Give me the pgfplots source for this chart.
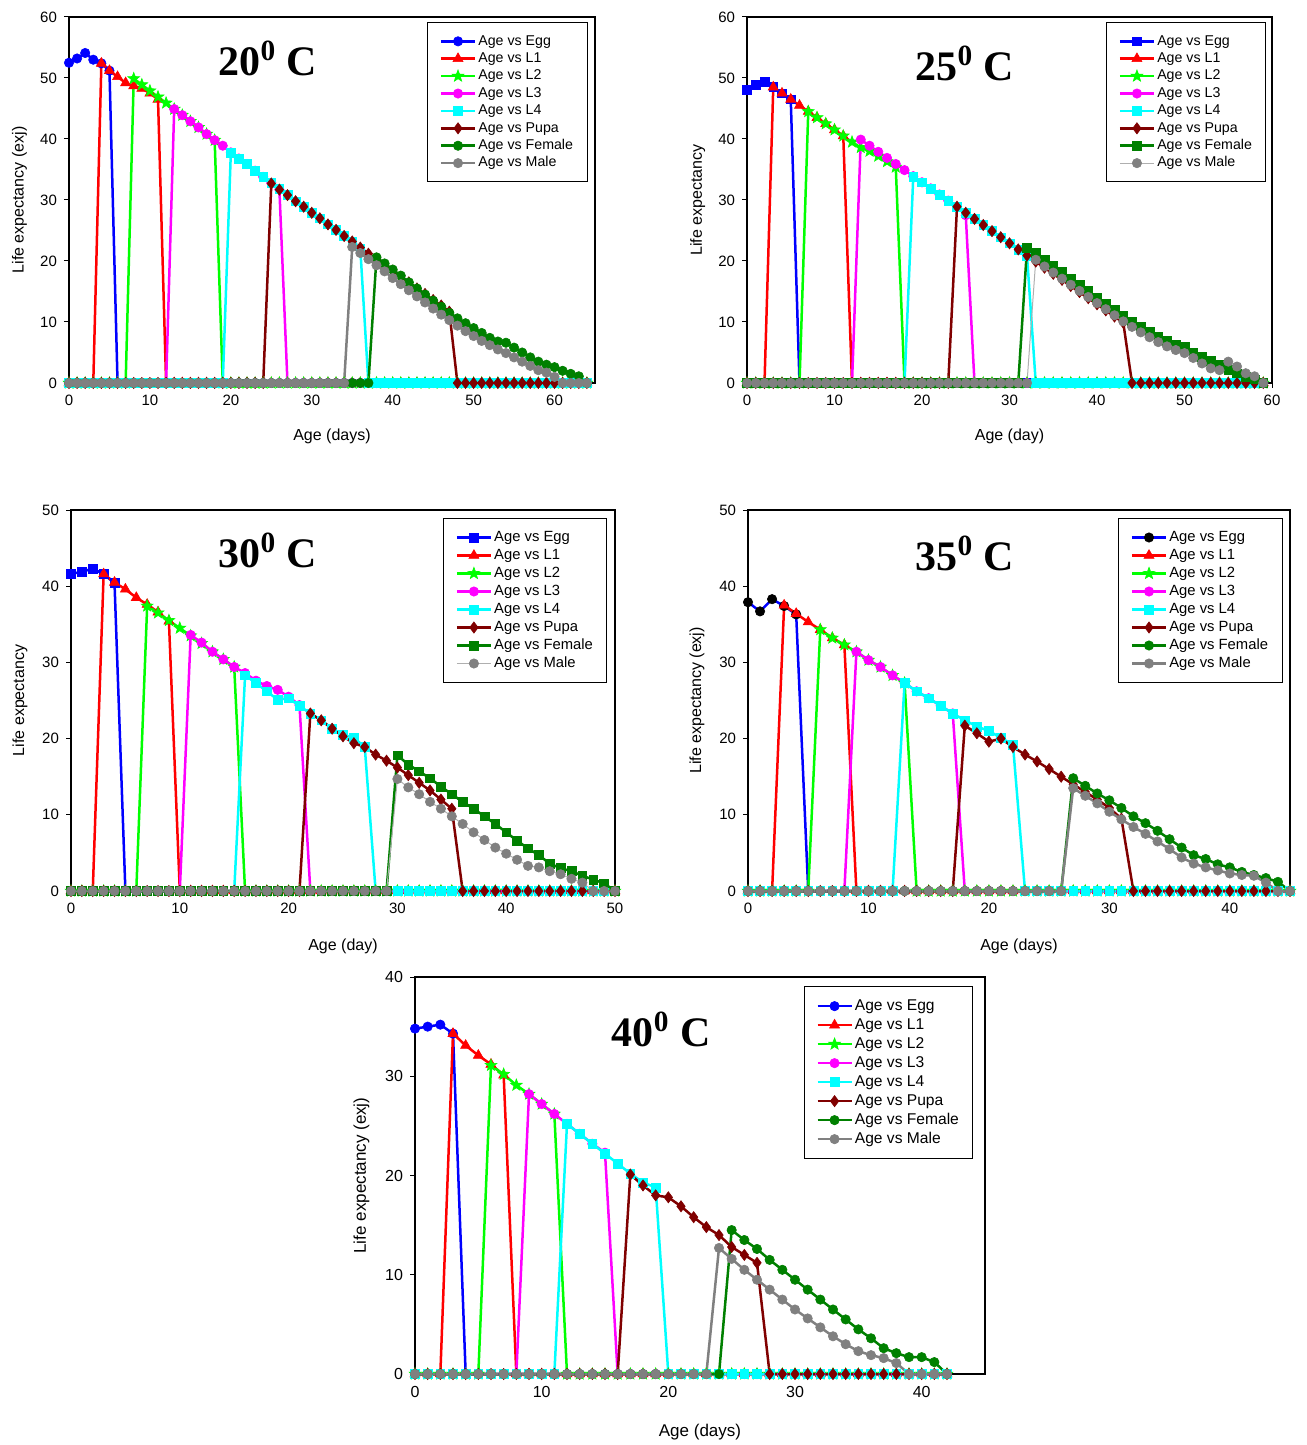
\documentclass[border=0pt]{standalone}
\usepackage{fontspec}
\setmainfont{Liberation Sans}
\newfontfamily\tnr{Liberation Serif}
\usepackage{pgfplots}
\usepackage{pgfplotstable}
\pgfplotsset{compat=1.18}
\usetikzlibrary{plotmarks}

\definecolor{cB}{RGB}{0,0,255}
\definecolor{cR}{RGB}{255,0,0}
\definecolor{cL2}{RGB}{0,255,0}
\definecolor{cM}{RGB}{255,0,255}
\definecolor{cC}{RGB}{0,255,255}
\definecolor{cPupa}{RGB}{128,0,0}
\definecolor{cFem}{RGB}{0,128,0}
\definecolor{cMale}{RGB}{128,128,128}
\definecolor{cMaleL}{RGB}{175,175,175}

\pgfdeclareplotmark{fstar}{%
\pgfpathmoveto{\pgfpointpolar{90}{\pgfplotmarksize}}%
\pgfpathlineto{\pgfpointpolar{126}{0.42\pgfplotmarksize}}%
\pgfpathlineto{\pgfpointpolar{162}{\pgfplotmarksize}}%
\pgfpathlineto{\pgfpointpolar{198}{0.42\pgfplotmarksize}}%
\pgfpathlineto{\pgfpointpolar{234}{\pgfplotmarksize}}%
\pgfpathlineto{\pgfpointpolar{270}{0.42\pgfplotmarksize}}%
\pgfpathlineto{\pgfpointpolar{306}{\pgfplotmarksize}}%
\pgfpathlineto{\pgfpointpolar{342}{0.42\pgfplotmarksize}}%
\pgfpathlineto{\pgfpointpolar{18}{\pgfplotmarksize}}%
\pgfpathlineto{\pgfpointpolar{54}{0.42\pgfplotmarksize}}%
\pgfpathclose\pgfusepathqfillstroke}

\pgfplotsset{
 sEggC/.style={color=cB, line width=1.25pt, mark=*, mark size=2.35pt, mark options={solid,line width=0.3pt}},
 sEggS/.style={color=cB, line width=1.25pt, mark=square*, mark size=2.2pt, mark options={solid,line width=0.3pt}},
 sEggK/.style={color=cB, line width=1.25pt, mark=*, mark size=2.35pt, mark options={solid,line width=0.3pt,fill=black,draw=black}},
 sL1/.style={color=cR, line width=1.25pt, mark=triangle*, mark size=2.9pt, mark options={solid,line width=0.3pt}},
 sL2/.style={color=cL2, line width=1.25pt, mark=fstar, mark size=3.1pt, mark options={solid,line width=0.3pt}},
 sL3/.style={color=cM, line width=1.25pt, mark=*, mark size=2.35pt, mark options={solid,line width=0.3pt}},
 sL4/.style={color=cC, line width=1.25pt, mark=square*, mark size=2.2pt, mark options={solid,line width=0.3pt}},
 sP/.style={color=cPupa, line width=1.25pt, mark=diamond*, mark size=2.8pt, mark options={solid,line width=0.3pt}},
 sFC/.style={color=cFem, line width=1.25pt, mark=*, mark size=2.35pt, mark options={solid,line width=0.3pt}},
 sFS/.style={color=cFem, line width=1.25pt, mark=square*, mark size=2.2pt, mark options={solid,line width=0.3pt}},
 sMC/.style={color=cMale, line width=1.25pt, mark=*, mark size=2.35pt, mark options={solid,line width=0.3pt}},
 sMT/.style={color=cMaleL, line width=0.5pt, mark=*, mark size=2.35pt, mark options={solid,line width=0.3pt,fill=cMale,draw=cMale}},
 pan/.style={scale only axis, anchor=north west, xmin=0, ymin=0, clip=false,
  axis line style={line width=0.6pt, black},
  tick align=outside, xtick pos=left, ytick pos=left, major tick length=2.5pt,
  tick style={black, line width=0.5pt},
  tick label style={font=\fontsize{7.5}{9}\selectfont},
  /pgf/number format/assume math mode=true,
  xtick distance=10, ytick distance=10, minor tick num=0,
  label style={font=\fontsize{8}{10}\selectfont},
  xlabel style={at={(axis description cs:0.5,-0.146)}, anchor=center},
  ylabel style={at={(axis description cs:-0.094,0.5)}, anchor=center},
  legend cell align=left,
  legend style={draw=black, line width=0.5pt, fill=white, font=\fontsize{7.1}{8}\selectfont,
   inner xsep=6pt, inner ysep=5pt, row sep=0pt,
   nodes={inner sep=1pt, text height=5.2pt, text depth=1.5pt}},
 },
}
\newcommand\ttl{\tnr\bfseries\fontsize{21}{24}\selectfont}
\newcommand\allplots[4]{%
 \addplot[#2] table[x=d,y=E]{#1};
 \addplot[sL1] table[x=d,y=A]{#1};
 \addplot[sL2] table[x=d,y=B]{#1};
 \addplot[sL3] table[x=d,y=C]{#1};
 \addplot[sL4] table[x=d,y=Q]{#1};
 \addplot[sP] table[x=d,y=P]{#1};
 \addplot[#3] table[x=d,y=F]{#1};
 \addplot[#4] table[x=d,y=M]{#1};
 \legend{Age vs Egg,Age vs L1,Age vs L2,Age vs L3,Age vs L4,Age vs Pupa,Age vs Female,Age vs Male}%
}

\pgfplotstableread{
d E A B C Q P F M
0 52.5 0 0 0 0 0 0 0
1 53.2 0 0 0 0 0 0 0
2 54.1 0 0 0 0 0 0 0
3 53.0 0 0 0 0 0 0 0
4 52.4 52.4 0 0 0 0 0 0
5 51.2 51.2 0 0 0 0 0 0
6 0 50.2 0 0 0 0 0 0
7 0 49.2 0 0 0 0 0 0
8 0 48.7 49.9 0 0 0 0 0
9 0 48.3 48.9 0 0 0 0 0
10 0 47.5 47.9 0 0 0 0 0
11 0 46.5 46.9 0 0 0 0 0
12 0 0 45.9 0 0 0 0 0
13 0 0 44.9 44.9 0 0 0 0
14 0 0 43.9 43.9 0 0 0 0
15 0 0 42.9 42.9 0 0 0 0
16 0 0 41.9 41.9 0 0 0 0
17 0 0 40.8 40.8 0 0 0 0
18 0 0 39.8 39.8 0 0 0 0
19 0 0 0 38.9 0 0 0 0
20 0 0 0 37.8 37.8 0 0 0
21 0 0 0 36.8 36.8 0 0 0
22 0 0 0 35.9 35.9 0 0 0
23 0 0 0 34.8 34.8 0 0 0
24 0 0 0 33.8 33.8 0 0 0
25 0 0 0 32.8 32.8 32.7 0 0
26 0 0 0 31.7 31.8 31.7 0 0
27 0 0 0 0 30.8 30.8 0 0
28 0 0 0 0 29.8 29.8 0 0
29 0 0 0 0 28.9 28.9 0 0
30 0 0 0 0 27.9 27.9 0 0
31 0 0 0 0 27.0 27.0 0 0
32 0 0 0 0 26.0 26.0 0 0
33 0 0 0 0 25.1 25.1 0 0
34 0 0 0 0 24.1 24.1 0 0
35 0 0 0 0 23.2 23.2 0 22.3
36 0 0 0 0 22.0 22.2 0 21.3
37 0 0 0 0 0 21.2 0 20.3
38 0 0 0 0 0 20.3 20.6 19.3
39 0 0 0 0 0 19.3 19.6 18.3
40 0 0 0 0 0 18.4 18.6 17.2
41 0 0 0 0 0 17.4 17.6 16.2
42 0 0 0 0 0 16.5 16.5 15.2
43 0 0 0 0 0 15.5 15.5 14.2
44 0 0 0 0 0 14.6 14.5 13.2
45 0 0 0 0 0 13.6 13.5 12.2
46 0 0 0 0 0 12.7 12.5 11.2
47 0 0 0 0 0 11.7 11.5 10.3
48 0 0 0 0 0 0 10.6 9.4
49 0 0 0 0 0 0 9.8 8.5
50 0 0 0 0 0 0 9.0 7.7
51 0 0 0 0 0 0 8.2 6.9
52 0 0 0 0 0 0 7.4 6.2
53 0 0 0 0 0 0 6.8 5.5
54 0 0 0 0 0 0 6.6 4.9
55 0 0 0 0 0 0 5.8 4.2
56 0 0 0 0 0 0 5.0 3.5
57 0 0 0 0 0 0 4.2 2.8
58 0 0 0 0 0 0 3.5 2.1
59 0 0 0 0 0 0 3.0 1.7
60 0 0 0 0 0 0 2.6 1.0
61 0 0 0 0 0 0 2.0 0
62 0 0 0 0 0 0 1.5 0
63 0 0 0 0 0 0 1.1 0
64 0 0 0 0 0 0 0 0
}\tA

\pgfplotstableread{
d E A B C Q P F M
0 48.1 0 0 0 0 0 0 0
1 48.9 0 0 0 0 0 0 0
2 49.4 0 0 0 0 0 0 0
3 48.5 48.5 0 0 0 0 0 0
4 47.5 47.5 0 0 0 0 0 0
5 46.5 46.5 0 0 0 0 0 0
6 0 45.5 0 0 0 0 0 0
7 0 44.5 44.5 0 0 0 0 0
8 0 43.5 43.5 0 0 0 0 0
9 0 42.5 42.5 0 0 0 0 0
10 0 41.5 41.5 0 0 0 0 0
11 0 40.5 40.5 0 0 0 0 0
12 0 0 39.5 0 0 0 0 0
13 0 0 38.6 39.9 0 0 0 0
14 0 0 38.0 38.9 0 0 0 0
15 0 0 37.2 37.9 0 0 0 0
16 0 0 36.3 36.9 0 0 0 0
17 0 0 35.4 35.9 0 0 0 0
18 0 0 0 34.9 0 0 0 0
19 0 0 0 33.9 33.8 0 0 0
20 0 0 0 32.9 32.9 0 0 0
21 0 0 0 31.9 31.9 0 0 0
22 0 0 0 30.9 30.9 0 0 0
23 0 0 0 29.9 29.9 0 0 0
24 0 0 0 28.9 28.9 28.9 0 0
25 0 0 0 27.5 27.9 27.9 0 0
26 0 0 0 0 26.9 26.9 0 0
27 0 0 0 0 25.9 25.9 0 0
28 0 0 0 0 24.9 24.9 0 0
29 0 0 0 0 23.9 23.9 0 0
30 0 0 0 0 22.9 22.9 0 0
31 0 0 0 0 21.9 21.9 0 0
32 0 0 0 0 20.9 20.9 22.1 0
33 0 0 0 0 0 19.9 21.3 20.2
34 0 0 0 0 0 18.9 20.2 19.1
35 0 0 0 0 0 17.9 19.2 18.1
36 0 0 0 0 0 16.9 18.2 17.1
37 0 0 0 0 0 15.9 17.1 16.1
38 0 0 0 0 0 14.9 16.1 15.1
39 0 0 0 0 0 13.9 15.1 14.1
40 0 0 0 0 0 12.9 14.0 13.1
41 0 0 0 0 0 11.9 13.0 12.1
42 0 0 0 0 0 10.9 12.0 11.1
43 0 0 0 0 0 9.9 11.0 10.1
44 0 0 0 0 0 0 10.1 9.2
45 0 0 0 0 0 0 9.2 8.3
46 0 0 0 0 0 0 8.4 7.5
47 0 0 0 0 0 0 7.6 6.7
48 0 0 0 0 0 0 6.9 6.0
49 0 0 0 0 0 0 6.3 5.4
50 0 0 0 0 0 0 5.9 4.9
51 0 0 0 0 0 0 5.0 4.1
52 0 0 0 0 0 0 4.3 3.2
53 0 0 0 0 0 0 3.7 2.4
54 0 0 0 0 0 0 3.0 2.1
55 0 0 0 0 0 0 2.1 3.5
56 0 0 0 0 0 0 1.6 2.7
57 0 0 0 0 0 0 1.0 1.6
58 0 0 0 0 0 0 0.6 1.1
59 0 0 0 0 0 0 0 0
}\tB

\pgfplotstableread{
d E A B C Q P F M
0 41.6 0 0 0 0 0 0 0
1 41.9 0 0 0 0 0 0 0
2 42.3 0 0 0 0 0 0 0
3 41.6 41.6 0 0 0 0 0 0
4 40.4 40.5 0 0 0 0 0 0
5 0 39.6 0 0 0 0 0 0
6 0 38.5 0 0 0 0 0 0
7 0 37.6 37.4 0 0 0 0 0
8 0 36.6 36.5 0 0 0 0 0
9 0 35.4 35.5 0 0 0 0 0
10 0 0 34.5 0 0 0 0 0
11 0 0 33.5 33.6 0 0 0 0
12 0 0 32.5 32.6 0 0 0 0
13 0 0 31.4 31.4 0 0 0 0
14 0 0 30.4 30.4 0 0 0 0
15 0 0 29.4 29.4 0 0 0 0
16 0 0 0 28.6 28.3 0 0 0
17 0 0 0 27.6 27.3 0 0 0
18 0 0 0 26.9 26.2 0 0 0
19 0 0 0 26.4 25.1 0 0 0
20 0 0 0 25.5 25.3 0 0 0
21 0 0 0 24.4 24.3 0 0 0
22 0 0 0 0 23.3 23.3 0 0
23 0 0 0 0 22.4 22.4 0 0
24 0 0 0 0 21.3 21.3 0 0
25 0 0 0 0 20.5 20.3 0 0
26 0 0 0 0 20.1 19.4 0 0
27 0 0 0 0 18.9 18.9 0 0
28 0 0 0 0 0 17.9 0 0
29 0 0 0 0 0 17.1 0 0
30 0 0 0 0 0 16.2 17.8 14.7
31 0 0 0 0 0 15.2 16.6 13.6
32 0 0 0 0 0 14.2 15.7 12.7
33 0 0 0 0 0 13.2 14.8 11.7
34 0 0 0 0 0 12.0 13.7 10.8
35 0 0 0 0 0 10.8 12.7 9.8
36 0 0 0 0 0 0 11.7 8.8
37 0 0 0 0 0 0 10.8 7.7
38 0 0 0 0 0 0 9.8 6.7
39 0 0 0 0 0 0 8.8 5.7
40 0 0 0 0 0 0 7.7 4.9
41 0 0 0 0 0 0 6.6 4.1
42 0 0 0 0 0 0 5.6 3.3
43 0 0 0 0 0 0 4.7 3.1
44 0 0 0 0 0 0 3.6 2.6
45 0 0 0 0 0 0 3.0 2.2
46 0 0 0 0 0 0 2.6 1.6
47 0 0 0 0 0 0 2.0 1.1
48 0 0 0 0 0 0 1.5 0
49 0 0 0 0 0 0 1.0 0
50 0 0 0 0 0 0 0 0
}\tC

\pgfplotstableread{
d E A B C Q P F M
0 37.9 0 0 0 0 0 0 0
1 36.7 0 0 0 0 0 0 0
2 38.3 0 0 0 0 0 0 0
3 37.4 37.5 0 0 0 0 0 0
4 36.3 36.4 0 0 0 0 0 0
5 0 35.3 0 0 0 0 0 0
6 0 34.3 34.3 0 0 0 0 0
7 0 33.2 33.2 0 0 0 0 0
8 0 32.3 32.3 0 0 0 0 0
9 0 0 31.4 31.4 0 0 0 0
10 0 0 30.3 30.3 0 0 0 0
11 0 0 29.4 29.4 0 0 0 0
12 0 0 28.3 28.3 0 0 0 0
13 0 0 27.3 27.3 27.3 0 0 0
14 0 0 0 26.2 26.2 0 0 0
15 0 0 0 25.3 25.3 0 0 0
16 0 0 0 24.3 24.3 0 0 0
17 0 0 0 23.3 23.3 0 0 0
18 0 0 0 0 22.4 21.7 0 0
19 0 0 0 0 21.6 20.7 0 0
20 0 0 0 0 21.0 19.6 0 0
21 0 0 0 0 20.1 20.0 0 0
22 0 0 0 0 19.2 18.9 0 0
23 0 0 0 0 0 17.9 0 0
24 0 0 0 0 0 17.0 0 0
25 0 0 0 0 0 16.0 0 0
26 0 0 0 0 0 15.0 0 0
27 0 0 0 0 0 14.0 14.8 13.5
28 0 0 0 0 0 13.0 13.8 12.5
29 0 0 0 0 0 12.0 12.8 11.5
30 0 0 0 0 0 10.9 11.9 10.4
31 0 0 0 0 0 9.5 10.9 9.4
32 0 0 0 0 0 0 9.8 8.4
33 0 0 0 0 0 0 8.9 7.5
34 0 0 0 0 0 0 7.9 6.5
35 0 0 0 0 0 0 6.8 5.5
36 0 0 0 0 0 0 5.7 4.4
37 0 0 0 0 0 0 4.7 3.6
38 0 0 0 0 0 0 4.2 3.1
39 0 0 0 0 0 0 3.5 2.7
40 0 0 0 0 0 0 3.1 2.3
41 0 0 0 0 0 0 2.5 2.1
42 0 0 0 0 0 0 2.1 2.0
43 0 0 0 0 0 0 1.7 1.1
44 0 0 0 0 0 0 1.2 0
45 0 0 0 0 0 0 0 0
}\tD

\pgfplotstableread{
d E A B C Q P F M
0 34.8 0 0 0 0 0 0 0
1 35.0 0 0 0 0 0 0 0
2 35.2 0 0 0 0 0 0 0
3 34.3 34.3 0 0 0 0 0 0
4 0 33.1 0 0 0 0 0 0
5 0 32.1 0 0 0 0 0 0
6 0 31.2 31.1 0 0 0 0 0
7 0 30.1 30.2 0 0 0 0 0
8 0 0 29.1 0 0 0 0 0
9 0 0 28.2 28.2 0 0 0 0
10 0 0 27.2 27.2 0 0 0 0
11 0 0 26.2 26.2 0 0 0 0
12 0 0 0 25.2 25.2 0 0 0
13 0 0 0 24.2 24.2 0 0 0
14 0 0 0 23.2 23.2 0 0 0
15 0 0 0 22.3 22.2 0 0 0
16 0 0 0 0 21.2 0 0 0
17 0 0 0 0 20.2 20.1 0 0
18 0 0 0 0 19.3 19.0 0 0
19 0 0 0 0 18.8 18.0 0 0
20 0 0 0 0 0 17.8 0 0
21 0 0 0 0 0 16.9 0 0
22 0 0 0 0 0 15.8 0 0
23 0 0 0 0 0 14.8 0 0
24 0 0 0 0 0 14.0 0 12.7
25 0 0 0 0 0 12.8 14.5 11.6
26 0 0 0 0 0 12.0 13.5 10.5
27 0 0 0 0 0 11.2 12.6 9.5
28 0 0 0 0 0 0 11.5 8.5
29 0 0 0 0 0 0 10.5 7.5
30 0 0 0 0 0 0 9.5 6.5
31 0 0 0 0 0 0 8.5 5.6
32 0 0 0 0 0 0 7.5 4.7
33 0 0 0 0 0 0 6.5 3.8
34 0 0 0 0 0 0 5.5 3.0
35 0 0 0 0 0 0 4.5 2.3
36 0 0 0 0 0 0 3.6 1.9
37 0 0 0 0 0 0 2.6 1.6
38 0 0 0 0 0 0 2.1 1.1
39 0 0 0 0 0 0 1.7 0
40 0 0 0 0 0 0 1.7 0
41 0 0 0 0 0 0 1.2 0
42 0 0 0 0 0 0 0 0
}\tE

\begin{document}
\begin{tikzpicture}
\useasboundingbox (0,0) rectangle (653pt,-722.5pt);

\begin{axis}[pan, at={(34.5pt,-8.5pt)}, width=263pt, height=183pt,
  xmax=65, ymax=60,
  xlabel={Age (days)}, ylabel={Life expectancy (exj)},
  legend style={at={(axis description cs:0.681,0.986)}, anchor=north west}]
\allplots{\tA}{sEggC}{sFC}{sMC}
\node[font=\ttl] at (rel axis cs:0.378,0.888) {20\textsuperscript{0} C};
\end{axis}

\begin{axis}[pan, at={(373.5pt,-8.5pt)}, width=262.5pt, height=183pt,
  xmax=60, ymax=60,
  xlabel={Age (day)}, ylabel={Life expectancy},
  legend style={at={(axis description cs:0.684,0.986)}, anchor=north west}]
\allplots{\tB}{sEggS}{sFS}{sMT}
\node[font=\ttl] at (rel axis cs:0.415,0.874) {25\textsuperscript{0} C};
\end{axis}

\begin{axis}[pan, at={(35.5pt,-255pt)}, width=272pt, height=190.5pt,
  xmax=50, ymax=50,
  xlabel={Age (day)}, ylabel={Life expectancy},
  legend style={at={(axis description cs:0.684,0.979)}, anchor=north west,
   font=\fontsize{7.4}{8.5}\selectfont, nodes={inner sep=1pt, text height=5.4pt, text depth=1.6pt}}]
\allplots{\tC}{sEggS}{sFS}{sMT}
\node[font=\ttl] at (rel axis cs:0.362,0.895) {30\textsuperscript{0} C};
\end{axis}

\begin{axis}[pan, at={(374pt,-255pt)}, width=271pt, height=190.5pt,
  xmax=45, ymax=50,
  xlabel={Age (days)}, ylabel={Life expectancy (exj)},
  legend style={at={(axis description cs:0.683,0.979)}, anchor=north west,
   font=\fontsize{7.4}{8.5}\selectfont, nodes={inner sep=1pt, text height=5.4pt, text depth=1.6pt}}]
\allplots{\tD}{sEggK}{sFC}{sMC}
\node[font=\ttl] at (rel axis cs:0.400,0.887) {35\textsuperscript{0} C};
\end{axis}

\begin{axis}[pan, at={(207.5pt,-488.5pt)}, width=285pt, height=198.5pt,
  xmax=45, ymax=40,
  tick label style={font=\fontsize{8}{9.5}\selectfont},
  label style={font=\fontsize{8.5}{10}\selectfont},
  xlabel={Age (days)}, ylabel={Life expectancy (exj)},
  legend style={at={(axis description cs:0.682,0.977)}, anchor=north west,
   font=\fontsize{7.8}{9}\selectfont, nodes={inner sep=1pt, text height=5.8pt, text depth=1.7pt}}]
\allplots{\tE}{sEggC}{sFC}{sMC}
\node[font=\ttl] at (rel axis cs:0.432,0.869) {40\textsuperscript{0} C};
\end{axis}
\end{tikzpicture}
\end{document}
